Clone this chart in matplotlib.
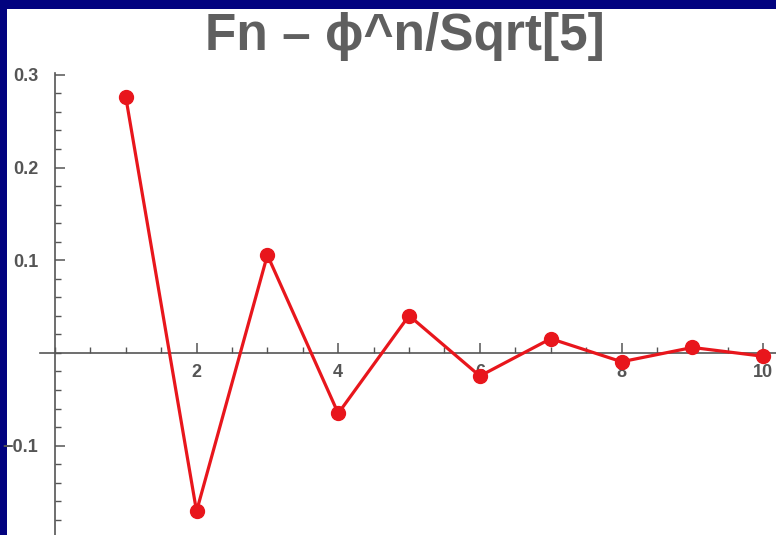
# Fn - phi^n/Sqrt[5] plot, Mathematica style
import matplotlib.pyplot as plt
from matplotlib.patches import Rectangle
from matplotlib.ticker import MultipleLocator

plt.rcParams['font.family'] = ['Liberation Sans', 'DejaVu Sans']

# values
n_values = [1, 2, 3, 4, 5, 6, 7, 8, 9, 10]
diff_values = [0.2764, -0.1708, 0.1056, -0.0652, 0.0403,
               -0.0249, 0.0154, -0.0095, 0.0059, -0.0036]
x_ticks = [2, 4, 6, 8, 10]
y_ticks = [-0.1, 0.1, 0.2, 0.3]

fig = plt.figure(figsize=(7.76, 5.35), dpi=100, facecolor="#02037f")
# white panel inside the navy border
fig.patches.append(Rectangle((7 / 776, 0), 1, 1 - 9 / 535, transform=fig.transFigure,
                             facecolor="white", edgecolor="none", zorder=-10))

ax = fig.add_axes([40 / 776, 0, 736 / 776, (535 - 73) / 535])
ax.set_facecolor("none")
ax.set_xlim(-0.21, 10.18)
ax.set_ylim(-0.1964, 0.302)

ax.plot(n_values, diff_values, color="#e8161c", linewidth=2.3, marker="o",
        markersize=10, zorder=3, clip_on=False)

# axes through the origin
for side in ["top", "right"]:
    ax.spines[side].set_visible(False)
ax.spines["left"].set_position(("data", 0))
ax.spines["bottom"].set_position(("data", 0))
for side in ["left", "bottom"]:
    ax.spines[side].set_color("#555555")
    ax.spines[side].set_linewidth(1.2)

ax.set_xticks(x_ticks)
ax.set_yticks(y_ticks)
ax.set_yticklabels(["\u22120.1", "0.1", "0.2", "0.3"])
ax.xaxis.set_minor_locator(MultipleLocator(0.5))
ax.yaxis.set_minor_locator(MultipleLocator(0.02))
ax.tick_params(which="major", direction="in", length=7, width=1.1, color="#555555",
               labelsize=13, labelcolor="#555555")
ax.tick_params(axis="x", which="major", pad=8)
ax.tick_params(axis="y", which="major", pad=12)
ax.tick_params(which="minor", direction="in", length=4, width=1, color="#555555")
for lab in ax.get_xticklabels() + ax.get_yticklabels():
    lab.set_fontweight("bold")

fig.text(405 / 776, 1 - 37 / 535, "Fn \u2013 \u03d5^n/Sqrt[5]", ha="center", va="center",
         fontsize=37, fontweight="bold", color="#5f5f5f")

plt.savefig("out.png", dpi=100, facecolor=fig.get_facecolor())
